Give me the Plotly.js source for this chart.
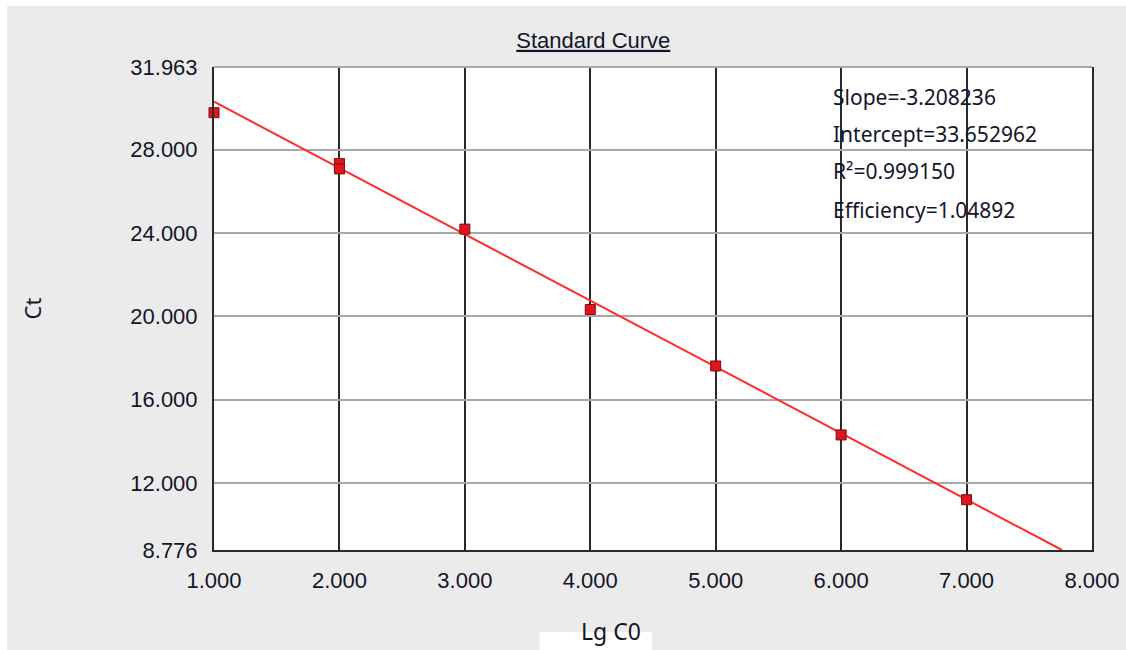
<!DOCTYPE html>
<html>
<head>
<meta charset="utf-8">
<script src="https://cdn.plot.ly/plotly-3.0.1.min.js"></script>
<style>
  html, body { margin: 0; padding: 0; background: #ffffff; width: 1126px; height: 650px; overflow: hidden; }
  #chart { position: absolute; left: 7px; top: 6px; width: 1119px; height: 644px; }
</style>
</head>
<body>
<div id="chart"></div>
<script>
// Measured standards (Lg C0 vs Ct)
const lgC0 = [1, 2, 2, 3, 4, 5, 6, 7];
const ct = [29.77, 27.33, 27.07, 24.18, 20.32, 17.61, 14.30, 11.19];

// Fitted standard-curve line endpoints
const fitX = [1.0, 7.76];
const fitY = [30.30, 8.776];

// Axis ticks
const xTicks = [1, 2, 3, 4, 5, 6, 7, 8];
const yTicks = [8.776, 12, 16, 20, 24, 28, 31.963];
const yTickText = ["8.776", "12.000", "16.000", "20.000", "24.000", "28.000", "31.963"];

// Fit statistics
const statLines = ["Slope=-3.208236", "Intercept=33.652962", "R²=0.999150", "Efficiency=1.04892"];
const statY = [0.938, 0.861, 0.785, 0.704];

const textColor = "#15152a";

const traces = [
  {
    x: fitX, y: fitY, type: "scatter", mode: "lines",
    line: { color: "#ff2a2a", width: 2 },
    hoverinfo: "skip", showlegend: false
  },
  {
    x: lgC0, y: ct, type: "scatter", mode: "markers", cliponaxis: false,
    marker: { symbol: "square", size: 10, color: "#e3141c", line: { color: "#7a0d0d", width: 1 } },
    showlegend: false
  }
];

const annotations = statLines.map((t, i) => ({
  text: t, xref: "paper", yref: "paper", x: 0.703, y: statY[i],
  xanchor: "left", yanchor: "middle", showarrow: false,
  font: { family: "Noto Sans, Open Sans, sans-serif", size: 21, color: textColor }
}));

annotations.push({
  text: "Lg C0", xref: "paper", yref: "paper", x: 0.452, y: -0.168,
  xanchor: "center", yanchor: "middle", showarrow: false,
  font: { family: "Noto Sans, Open Sans, sans-serif", size: 23, color: textColor }
});

const layout = {
  width: 1119, height: 644,
  margin: { l: 207, r: 34, t: 61, b: 100 },
  paper_bgcolor: "#ebebeb",
  plot_bgcolor: "#ffffff",
  showlegend: false,
  title: {
    text: "Standard Curve",
    x: 0.432, xref: "paper", xanchor: "center",
    y: 0.947, yref: "container", yanchor: "middle",
    font: { family: "Liberation Sans, Arial, sans-serif", size: 22, color: textColor, lineposition: "under" }
  },
  xaxis: {
    range: [1, 8],
    tickvals: xTicks, tickformat: ".3f",
    ticks: "", ticklabelstandoff: 10,
    showgrid: true, gridcolor: "#2a2a2a", gridwidth: 2,
    showline: true, linecolor: "#2a2a2a", linewidth: 2,
    zeroline: false,
    tickfont: { family: "Liberation Sans, Arial, sans-serif", size: 22, color: textColor }
  },
  yaxis: {
    range: [8.776, 31.963],
    tickvals: yTicks, ticktext: yTickText,
    ticks: "", ticklabelstandoff: 10,
    showgrid: true, gridcolor: "#a8a8a8", gridwidth: 2,
    showline: true, mirror: true, linecolor: "#2a2a2a", linewidth: 2,
    zeroline: false,
    tickfont: { family: "Liberation Sans, Arial, sans-serif", size: 22, color: textColor },
    title: { text: "Ct", standoff: 83,
      font: { family: "Noto Sans, Open Sans, sans-serif", size: 22, color: textColor } }
  },
  shapes: [
    { type: "rect", xref: "paper", yref: "paper", x0: 0.371, x1: 0.499, y0: -0.170, y1: -0.215,
      fillcolor: "#ffffff", line: { width: 0 }, layer: "below" },
    { type: "line", xref: "paper", yref: "paper", x0: 0, x1: 1, y0: 1, y1: 1,
      line: { color: "#a8a8a8", width: 2 } }
  ],
  annotations: annotations
};

Plotly.newPlot("chart", traces, layout, { displayModeBar: false, staticPlot: true });
</script>
</body>
</html>
